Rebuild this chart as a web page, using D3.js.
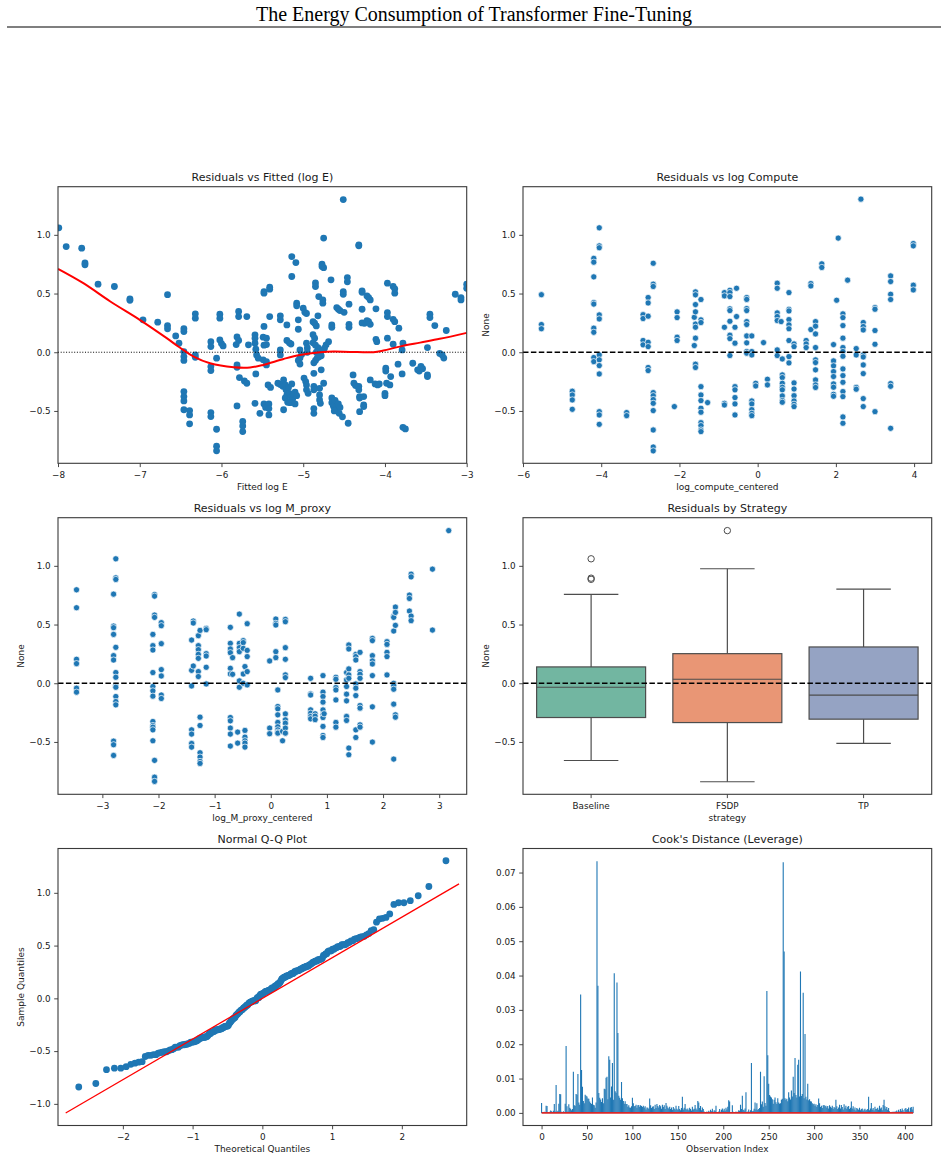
<!DOCTYPE html>
<meta charset="utf-8">
<head>
<style>
  body { margin: 0; background: #fff; }
  svg text { font-family: "DejaVu Sans", sans-serif; fill: #1a1a1a; }
  .axis text { font-size: 8.8px; }
  .axis line { stroke: #333; stroke-width: 0.9px; }
  .ptitle { font-size: 11px; }
  .alabel { font-size: 9px; }
</style>
</head>
<body>
<script src="https://d3js.org/d3.v7.min.js"></script>
<script>
// ---- data ----
// panel 1: fitted log E vs residual
var fittedResid = [
  [-7.99,1.06],[-7.90,0.90],[-7.71,0.886],[-7.67,0.76],[-7.67,0.745],[-7.51,0.58],[-7.31,0.56],[-7.12,0.455],[-7.12,0.443],
  [-6.96,0.276],[-6.78,0.256],[-6.66,0.49],[-6.66,0.227],[-6.66,0.20],[-6.56,0.139],[-6.52,0.077],
  [-6.46,0.20],[-6.46,0.176],[-6.46,0.006],[-6.46,-0.037],[-6.46,-0.07],[-6.46,-0.335],[-6.46,-0.378],[-6.46,-0.415],[-6.46,-0.49],
  [-6.39,-0.497],[-6.39,-0.534],[-6.39,-0.61],[-6.32,0.327],[-6.32,0.29],[-6.32,-0.023],[-6.32,-0.043],
  [-6.13,0.09],[-6.13,0.048],[-6.13,-0.122],[-6.13,-0.156],[-6.13,-0.514],[-6.13,-0.548],
  [-6.06,-0.051],[-6.06,-0.656],[-6.06,-0.80],[-6.06,-0.84],[-6.02,0.324],[-6.02,0.29],[-6.02,0.105],[-6.0,0.074],[-5.98,0.054],
  [-5.81,0.13],[-5.79,0.10],[-5.82,0.065],[-5.79,0.347],[-5.79,0.304],[-5.81,-0.108],[-5.81,-0.128],[-5.81,-0.457],
  [-5.69,0.304],[-5.78,-0.216],[-5.72,-0.245],[-5.69,-0.264],[-5.67,0.063],[-5.74,-0.59],[-5.74,-0.628],[-5.74,-0.676],
  [-5.59,0.148],[-5.59,0.12],[-5.59,0.077],[-5.58,0.026],[-5.57,-0.023],[-5.55,-0.051],[-5.58,-0.185],[-5.59,-0.435],[-5.53,-0.52],
  [-5.48,0.22],[-5.49,0.128],[-5.45,0.12],[-5.48,0.06],[-5.45,0.065],[-5.49,-0.065],[-5.45,-0.08],[-5.45,-0.108],[-5.48,-0.44],[-5.46,-0.47],
  [-5.48,0.503],[-5.48,0.517],[-5.42,-0.44],[-5.42,-0.48],[-5.42,-0.534],[-5.41,0.304],[-5.41,0.537],[-5.41,0.554],[-5.43,-0.278],[-5.40,-0.30],
  [-5.28,0.31],[-5.28,0.276],[-5.28,0.02],[-5.28,-0.023],[-5.31,-0.264],[-5.28,-0.275],[-5.25,-0.29],
  [-5.20,0.233],[-5.20,0.10],[-5.17,0.08],[-5.15,0.07],[-5.24,-0.49],
  [-5.24,-0.236],[-5.22,-0.278],[-5.21,-0.32],[-5.20,-0.364],[-5.22,-0.39],[-5.19,-0.426],[-5.17,-0.35],[-5.15,-0.38],[-5.13,-0.40],
  [-5.12,-0.36],[-5.10,-0.34],[-5.18,-0.30],[-5.16,-0.43],[-5.10,-0.44],[-5.14,-0.27],[-5.08,-0.37],
  [-5.14,0.815],[-5.09,0.764],[-5.14,0.645],[-5.08,0.418],[-5.08,0.395],[-5.06,0.276],[-5.06,0.196],[-5.04,0.02],[-5.02,-0.02],[-5.04,-0.05],[-5.06,-0.07],[-5.04,-0.10],
  [-5.0,0.375],[-4.98,0.34],[-4.96,0.33],[-4.99,-0.22],[-4.97,-0.25],[-4.96,-0.28],[-4.96,-0.32],[-4.94,-0.35],[-4.96,0.077],[-4.95,0.036],[-4.95,0.0],
  [-4.88,0.26],[-4.86,0.247],[-4.84,0.224],[-4.88,0.15],[-4.86,0.12],
  [-4.88,0.08],[-4.85,0.06],[-4.82,0.04],[-4.80,0.02],[-4.84,0.0],[-4.79,-0.01],[-4.78,-0.03],[-4.81,-0.04],[-4.83,-0.05],[-4.85,-0.07],[-4.87,-0.09],
  [-4.87,-0.18],[-4.87,-0.29],[-4.87,-0.32],[-4.87,-0.48],[-4.87,-0.52],[-4.85,0.59],[-4.85,0.56],[-4.81,0.474],[-4.82,0.31],[-4.78,-0.15],
  [-4.76,0.446],[-4.76,0.418],[-4.75,0.72],[-4.77,0.75],[-4.77,0.73],
  [-4.66,0.617],[-4.75,0.972],[-4.65,0.233],[-4.65,0.213],[-4.69,0.09],[-4.72,0.063],[-4.74,0.034],[-4.75,-0.264],[-4.8,-0.307],[-4.8,-0.364],[-4.8,-0.406],[-4.79,-0.435],
  [-4.59,0.38],[-4.57,0.366],[-4.55,0.355],
  [-4.65,-0.39],[-4.65,-0.43],[-4.63,-0.46],[-4.60,-0.49],[-4.56,-0.52],[-4.52,-0.55],[-4.61,-0.41],[-4.57,-0.44],[-4.55,-0.47],[-4.62,-0.50],
  [-4.51,1.30],[-4.51,0.517],[-4.51,0.494],[-4.50,0.34],[-4.46,0.636],[-4.46,0.60],[-4.44,0.409],[-4.44,0.238],[-4.44,0.213],[-4.45,-0.605],
  [-4.39,-0.193],[-4.38,-0.264],[-4.36,-0.284],
  [-4.32,0.915],[-4.32,0.906],[-4.32,-0.29],[-4.32,-0.32],[-4.31,-0.378],[-4.31,-0.39],[-4.31,-0.506],[-4.28,0.523],[-4.28,0.511],[-4.28,0.366],
  [-4.28,0.25],[-4.25,0.247],[-4.26,-0.378],[-4.26,-0.449],[-4.26,-0.463],
  [-4.22,0.27],[-4.20,0.26],[-4.18,0.238],[-4.22,0.48],[-4.20,0.466],[-4.18,0.446],[-4.18,-0.236],[-4.11,0.37],[-4.11,0.11],[-4.1,0.09],
  [-4.12,-0.27],[-4.09,-0.278],[-4.07,-0.27],
  [-3.97,0.588],[-3.97,0.338],[-3.97,0.304],[-3.97,0.12],[-3.99,-0.136],[-3.99,-0.16],[-4.0,-0.35],[-4.0,-0.37],[-3.98,-0.264],[-3.94,-0.278],
  [-3.9,0.56],[-3.88,0.54],[-3.88,0.503],[-3.9,0.28],[-3.88,0.26],[-3.9,0.068],[-3.93,-0.207],[-3.83,0.205],[-3.84,-0.102],[-3.78,0.077],
  [-3.79,0.02],[-3.79,-0.185],[-3.78,-0.64],[-3.75,-0.653],
  [-3.66,-0.094],[-3.6,-0.15],[-3.58,-0.16],[-3.56,-0.12],[-3.54,-0.14],[-3.48,-0.193],[-3.48,-0.207],[-3.48,0.04],[-3.45,0.324],[-3.45,0.295],
  [-3.39,0.227],[-3.33,-0.01],[-3.30,-0.023],[-3.28,-0.05],[-3.25,0.185],[-3.14,0.494],[-3.07,0.466],[-3.07,0.446],[-3.0,0.58],[-3.0,0.545]
];
var lowessCurve = [
  [-8.0,0.71],[-7.69,0.588],[-7.36,0.432],[-7.0,0.276],[-6.67,0.12],[-6.51,0.04],[-6.34,-0.037],[-6.14,-0.094],[-5.85,-0.128],
  [-5.65,-0.13],[-5.49,-0.108],[-5.24,-0.057],[-5.04,-0.023],[-4.79,0.0],[-4.63,0.006],[-4.43,0.003],[-4.14,0.0],[-4.02,0.014],
  [-3.82,0.048],[-3.57,0.082],[-3.33,0.114],[-3.0,0.165]
];

// panel 2: residuals stacked at each log_compute_centered level
var computeLevels = [-5.53,-4.74,-4.19,-4.05,-3.35,-2.93,-2.80,-2.67,-2.13,-2.06,-1.62,-1.59,-1.45,-1.28,-0.85,-0.71,-0.58,-0.54,
  -0.28,-0.15,-0.05,0.15,0.25,0.50,0.60,0.63,0.80,0.93,1.24,1.36,1.48,1.64,1.94,2.02,2.06,2.18,2.30,2.52,2.64,2.70,3.00,3.40,3.98];
var computeResiduals = [
  [0.49,0.236,0.20],
  [-0.332,-0.364,-0.406,-0.486],
  [0.80,0.767,0.642,0.423,0.41,0.205,0.17,-0.045,-0.08],
  [1.06,0.906,0.89,0.318,0.284,-0.023,-0.065,-0.114,-0.185,-0.506,-0.534,-0.614],
  [-0.514,-0.54],
  [0.32,0.287,0.10,0.063],
  [0.466,0.42,0.307,0.085,0.048,-0.13,-0.156],
  [0.758,0.58,0.56,-0.344,-0.37,-0.403,-0.435,-0.497,-0.662,-0.807,-0.84],
  [-0.463],
  [0.344,0.295,0.128,0.10],
  [0.298,0.057],
  [0.514,0.489,0.406,0.344,0.24,0.213,0.12,-0.102,-0.13],
  [0.449,0.276,0.253,-0.293,-0.364,-0.412,-0.477,-0.511,-0.60,-0.625,-0.662,-0.676],
  [-0.429],
  [0.508,0.48,0.213,-0.435,-0.449],
  [0.528,0.508,0.474,0.37,0.355,0.264,0.145,0.116,-0.028],
  [0.213,0.077,-0.293,-0.32,-0.386,-0.44,-0.534],
  [0.545,0.304],
  [0.466,0.45,0.372,0.355,0.261,0.236,0.139,0.08,0.006,-0.008],
  [0.139,0.006,-0.023,-0.415,-0.44,-0.489,-0.52,-0.54],
  [-0.264,-0.287],
  [0.082],
  [-0.23,-0.278],
  [0.588,0.545,0.335,0.304,0.27,0.02,-0.028],
  [0.261],
  [-0.057,-0.193,-0.216,-0.264,-0.298,-0.32,-0.372,-0.412,-0.426],
  [0.508,0.366,0.352,0.278,0.233,0.20,0.10,-0.037,-0.091],
  [0.071,0.048,-0.261,-0.313,-0.37,-0.415,-0.443,-0.463],
  [0.10,0.071,0.04],
  [0.585,0.565,0.193],
  [0.261,0.222,0.156,0.04,-0.065,-0.088,-0.15,-0.236,-0.278,-0.30],
  [0.753,0.722],
  [0.065,-0.074,-0.116,-0.165,-0.207,-0.27,-0.298,-0.358,-0.375],
  [0.443],
  [0.972],
  [0.327,0.295,0.227,0.12,0.04,0.006,-0.034,-0.142,-0.199,-0.256,-0.335,-0.378,-0.551,-0.605],
  [0.614],
  [0.031,-0.023,-0.30,-0.315],
  [1.304],
  [0.253,0.219,0.19,-0.023,-0.04,-0.108,-0.182,-0.395,-0.463],
  [0.38,0.366,0.185,0.068,-0.506],
  [0.65,0.602,0.494,0.449,-0.267,-0.29,-0.648],
  [0.926,0.906,0.571,0.531]
];

// panel 3: residuals stacked at each log_M_proxy_centered level
var mproxyLevels = [-3.46,-2.80,-2.76,-2.10,-2.07,-1.95,-1.41,-1.38,-1.29,-1.26,-1.15,-0.72,-0.68,-0.59,-0.56,-0.49,-0.46,-0.42,
  -0.02,0.09,0.125,0.21,0.26,0.71,0.79,0.93,0.95,1.16,1.35,1.39,1.515,1.59,1.81,2.07,2.19,2.22,2.47,2.50,2.88,3.17];
var mproxyResiduals = [
  [0.796,0.643,0.204,0.167,-0.042,-0.076],
  [0.759,0.487,0.473,0.416,0.235,0.198,-0.493,-0.524,-0.615],
  [1.06,0.898,0.884,0.306,0.091,0.051,-0.02,-0.034,-0.113,-0.156,-0.184],
  [0.416,0.32,0.283,0.091,-0.028,-0.065,-0.11,-0.326,-0.36,-0.374,-0.397,-0.49],
  [0.756,0.742,0.581,0.561,-0.657,-0.80,-0.836],
  [0.516,0.49,0.337,0.116,0.062,-0.10,-0.13],
  [0.368,0.11,-0.023,-0.397,-0.433,-0.513,-0.544],
  [0.53,0.513,0.147],
  [0.405,0.32,0.286,0.246,0.212,0.099,0.057],
  [0.45,-0.289,-0.36,-0.592,-0.629,-0.666,-0.683],
  [0.467,0.456,0.252,0.232,0.136,-0.006],
  [0.476,0.34,0.292,0.26,0.127,0.079,-0.292,-0.32,-0.382,-0.433,-0.535],
  [0.218,0.076],
  [-0.416,-0.51],
  [0.589,0.34,0.303,0.269,0.02,-0.034],
  [0.363,0.346,0.297,0.079,0.0],
  [0.142,-0.402,-0.459,-0.49,-0.51,-0.544],
  [0.507,0.28,0.227,0.099,-0.014],
  [0.19,-0.382,-0.43],
  [0.547,0.51,0.496,0.269,0.218],
  [-0.057,-0.198,-0.218,-0.269,-0.334,-0.371,-0.397,-0.416,-0.425],
  [-0.41,-0.49],
  [0.544,0.524,0.303,0.204,0.071,0.048,-0.261,-0.312,-0.34,-0.382,-0.425],
  [0.042,-0.091,-0.10,-0.227,-0.255,-0.283,-0.303],
  [-0.26,-0.28,-0.31],
  [0.065,-0.076,-0.113,-0.161,-0.227,-0.269,-0.292,-0.368,-0.445,-0.462],
  [-0.26],
  [0.051,0.034,-0.037,-0.057,-0.142,-0.334,-0.374],
  [0.091,0.028,-0.028,-0.093,-0.15,-0.283,-0.317],
  [0.326,0.292,0.122,0.071,0.042,-0.552,-0.609],
  [0.246,0.227,0.198,-0.006,-0.042,-0.105,-0.397,-0.462],
  [0.263,0.099,0.076,0.042,-0.19,-0.212,-0.354,-0.374],
  [0.382,0.363,0.235,0.19,0.164,0.065,-0.201,-0.501],
  [0.354,0.331,0.263,0.227,0.071],
  [0.572,0.561,0.445,0.0,-0.02,-0.051,-0.178,-0.646],
  [0.649,0.603,0.493,-0.269,-0.289],
  [0.751,0.722,0.615],
  [0.929,0.906,0.572,0.533],
  [0.972,0.453],
  [1.30]
];

// panel 4: box statistics per strategy
var strategies = ["Baseline", "FSDP", "TP"];
var boxColors = ["#72b6a1", "#e99675", "#95a3c3"];
var whiskerLow = [-0.658, -0.839, -0.513];
var boxQ1 = [-0.292, -0.335, -0.306];
var boxMedian = [-0.034, 0.034, -0.102];
var boxQ3 = [0.139, 0.252, 0.309];
var whiskerHigh = [0.757, 0.975, 0.802];
var outliers = [[1.06, 0.895, 0.885], [1.30], []];

// panel 5: reference line of the Q-Q plot (theoretical, sample)
var qqLine = [[-2.82, -1.087], [2.82, 1.085]];

// panel 6: Cook's distance per observation (index 0..409)
var cooksD = [
  0.0029,0.0002,0.0000,0.0003,0.0001,0.0021,0.0020,0.0002,0.0001,0.0003,
  0.0007,0.0005,0.0001,0.0006,0.0026,0.0004,0.0081,0.0004,0.0006,0.0027,
  0.0055,0.0054,0.0003,0.0002,0.0005,0.0002,0.0027,0.0195,0.0019,0.0004,
  0.0025,0.0015,0.0012,0.0008,0.0011,0.0120,0.0022,0.0021,0.0055,0.0053,
  0.0113,0.0030,0.0024,0.0345,0.0125,0.0076,0.0035,0.0028,0.0053,0.0050,
  0.0048,0.0042,0.0041,0.0033,0.0029,0.0026,0.0045,0.0024,0.0022,0.0015,
  0.0030,0.0733,0.0370,0.0058,0.0044,0.0039,0.0032,0.0043,0.0028,0.0070,
  0.0069,0.0102,0.0105,0.0040,0.0165,0.0155,0.0045,0.0077,0.0145,0.0038,
  0.0407,0.0063,0.0059,0.0380,0.0233,0.0050,0.0044,0.0038,0.0090,0.0043,
  0.0035,0.0027,0.0034,0.0026,0.0026,0.0018,0.0022,0.0016,0.0015,0.0019,
  0.0044,0.0028,0.0019,0.0020,0.0024,0.0015,0.0022,0.0023,0.0018,0.0022,
  0.0020,0.0017,0.0021,0.0016,0.0019,0.0010,0.0016,0.0015,0.0012,0.0042,
  0.0022,0.0014,0.0018,0.0019,0.0011,0.0024,0.0014,0.0026,0.0020,0.0016,
  0.0023,0.0019,0.0012,0.0024,0.0017,0.0022,0.0011,0.0029,0.0021,0.0016,
  0.0013,0.0018,0.0011,0.0016,0.0009,0.0017,0.0013,0.0010,0.0021,0.0012,
  0.0009,0.0020,0.0011,0.0008,0.0014,0.0047,0.0010,0.0015,0.0026,0.0012,
  0.0009,0.0013,0.0008,0.0015,0.0011,0.0007,0.0018,0.0010,0.0012,0.0023,
  0.0013,0.0009,0.0035,0.0030,0.0014,0.0020,0.0008,0.0016,0.0011,0.0004,
  0.0002,0.0001,0.0004,0.0000,0.0006,0.0003,0.0009,0.0005,0.0012,0.0003,
  0.0008,0.0006,0.0021,0.0002,0.0001,0.0004,0.0011,0.0003,0.0009,0.0013,
  0.0007,0.0012,0.0006,0.0015,0.0010,0.0018,0.0037,0.0033,0.0002,0.0001,
  0.0022,0.0003,0.0001,0.0002,0.0004,0.0001,0.0003,0.0008,0.0006,0.0024,
  0.0011,0.0050,0.0009,0.0007,0.0013,0.0060,0.0002,0.0004,0.0010,0.0003,
  0.0008,0.0145,0.0005,0.0006,0.0012,0.0030,0.0010,0.0028,0.0009,0.0011,
  0.0014,0.0120,0.0025,0.0033,0.0018,0.0107,0.0029,0.0021,0.0355,0.0168,
  0.0085,0.0052,0.0048,0.0045,0.0040,0.0027,0.0038,0.0045,0.0031,0.0026,
  0.0043,0.0030,0.0027,0.0028,0.0038,0.0041,0.0730,0.0470,0.0043,0.0038,
  0.0041,0.0034,0.0060,0.0045,0.0039,0.0065,0.0048,0.0105,0.0058,0.0160,
  0.0052,0.0045,0.0140,0.0155,0.0048,0.0412,0.0049,0.0055,0.0350,0.0043,
  0.0230,0.0047,0.0039,0.0085,0.0037,0.0040,0.0034,0.0033,0.0028,0.0025,
  0.0027,0.0021,0.0025,0.0018,0.0023,0.0042,0.0028,0.0017,0.0021,0.0014,
  0.0022,0.0023,0.0019,0.0021,0.0016,0.0020,0.0013,0.0022,0.0018,0.0015,
  0.0021,0.0012,0.0017,0.0014,0.0038,0.0019,0.0011,0.0016,0.0024,0.0013,
  0.0023,0.0017,0.0010,0.0025,0.0015,0.0021,0.0012,0.0018,0.0020,0.0011,
  0.0015,0.0033,0.0013,0.0019,0.0010,0.0016,0.0007,0.0014,0.0012,0.0009,
  0.0015,0.0008,0.0011,0.0013,0.0006,0.0010,0.0012,0.0007,0.0009,0.0011,
  0.0047,0.0008,0.0013,0.0029,0.0010,0.0014,0.0007,0.0018,0.0011,0.0012,
  0.0015,0.0009,0.0021,0.0013,0.0016,0.0008,0.0023,0.0038,0.0019,0.0012,
  0.0017,0.0009,0.0014,0.0005,0.0002,0.0001,0.0003,0.0001,0.0004,0.0002,
  0.0005,0.0007,0.0003,0.0009,0.0004,0.0011,0.0006,0.0013,0.0008,0.0002,
  0.0012,0.0014,0.0009,0.0011,0.0016,0.0004,0.0015,0.0017,0.0010,0.0018
];

// ---- layout ----
var width = 948, height = 1160;
var blue = "#1f77b4";
var colL = [58, 466.7], colR = [523, 931.7];
var row1 = [186.7, 463.3], row2 = [517.7, 794.3], row3 = [848.5, 1125.5];
var residDomain = [-0.946, 1.41];

var svg = d3.select("body").append("svg")
    .attr("width", width)
    .attr("height", height);

// figure title with rule underneath
svg.append("text")
    .attr("x", width / 2)
    .attr("y", 21)
    .attr("text-anchor", "middle")
    .style("font-family", "'Liberation Serif', 'Times New Roman', serif")
    .style("font-size", "20px")
    .style("fill", "#000")
    .text("The Energy Consumption of Transformer Fine-Tuning");
svg.append("line")
    .attr("x1", 7).attr("x2", 941)
    .attr("y1", 27).attr("y2", 27)
    .attr("stroke", "#000")
    .attr("stroke-width", 1.2);

var clipCount = 0;
function addPanel(cols, rows) {
    var id = "clip" + (clipCount++);
    svg.append("clipPath").attr("id", id)
        .append("rect")
        .attr("x", cols[0]).attr("y", rows[0])
        .attr("width", cols[1] - cols[0]).attr("height", rows[1] - rows[0]);
    var g = svg.append("g");
    var plot = g.append("g").attr("clip-path", "url(#" + id + ")");
    return { g: g, plot: plot };
}

function decorate(p, cols, rows, x, y, opt) {
    var xAxis = d3.axisBottom(x).tickSize(3.8).tickPadding(4.2).tickSizeOuter(0);
    if (opt.xTicks) xAxis.tickValues(opt.xTicks);
    if (opt.xFmt) xAxis.tickFormat(opt.xFmt);
    p.g.append("g").attr("class", "axis")
        .attr("transform", "translate(0," + rows[1] + ")")
        .call(xAxis)
        .call(function(s) { s.select(".domain").remove(); });

    var yAxis = d3.axisLeft(y).tickSize(3.8).tickPadding(3.5).tickSizeOuter(0)
        .tickValues(opt.yTicks).tickFormat(opt.yFmt);
    p.g.append("g").attr("class", "axis")
        .attr("transform", "translate(" + cols[0] + ",0)")
        .call(yAxis)
        .call(function(s) { s.select(".domain").remove(); });

    p.g.selectAll(".axis text").style("font-family", "'DejaVu Sans', sans-serif");

    p.g.append("rect")
        .attr("x", cols[0]).attr("y", rows[0])
        .attr("width", cols[1] - cols[0]).attr("height", rows[1] - rows[0])
        .attr("fill", "none")
        .attr("stroke", "#3a3a3a")
        .attr("stroke-width", 1.1);

    p.g.append("text").attr("class", "ptitle")
        .attr("x", (cols[0] + cols[1]) / 2)
        .attr("y", rows[0] - 5.5)
        .attr("text-anchor", "middle")
        .text(opt.title);

    if (opt.xLabel) {
        p.g.append("text").attr("class", "alabel")
            .attr("x", (cols[0] + cols[1]) / 2)
            .attr("y", rows[1] + 26.7)
            .attr("text-anchor", "middle")
            .text(opt.xLabel);
    }
    if (opt.yLabel) {
        var cy = (rows[0] + rows[1]) / 2;
        p.g.append("text").attr("class", "alabel")
            .attr("transform", "translate(" + (cols[0] - 34) + "," + cy + ") rotate(-90)")
            .attr("text-anchor", "middle")
            .text(opt.yLabel);
    }
}

function zeroLine(p, x0, x1, y, dash, w) {
    p.plot.append("line")
        .attr("x1", x0).attr("x2", x1)
        .attr("y1", y(0)).attr("y2", y(0))
        .attr("stroke", "#000")
        .attr("stroke-width", w)
        .attr("stroke-dasharray", dash);
}

var f1 = d3.format(".1f");
var residTicks = [-0.5, 0, 0.5, 1.0];

// ---- panel 1: residuals vs fitted ----
(function() {
    var x = d3.scaleLinear().domain([-8, -3]).range(colL);
    var y = d3.scaleLinear().domain(residDomain).range([row1[1], row1[0]]);
    var p = addPanel(colL, row1);
    p.plot.selectAll("circle")
        .data(fittedResid)
        .enter().append("circle")
        .attr("cx", function(d) { return x(d[0]); })
        .attr("cy", function(d) { return y(d[1]); })
        .attr("r", 3.4)
        .style("fill", blue);
    zeroLine(p, colL[0], colL[1], y, "1,1.7", 1);
    var line = d3.line()
        .x(function(d) { return x(d[0]); })
        .y(function(d) { return y(d[1]); })
        .curve(d3.curveCatmullRom);
    p.plot.append("path")
        .datum(lowessCurve)
        .attr("d", line)
        .attr("fill", "none")
        .attr("stroke", "#ff0000")
        .attr("stroke-width", 2);
    decorate(p, colL, row1, x, y, {
        xTicks: [-8, -7, -6, -5, -4, -3], xFmt: d3.format("d"),
        yTicks: residTicks, yFmt: f1,
        title: "Residuals vs Fitted (log E)", xLabel: "Fitted log E"
    });
})();

// scatter of stacked columns, seaborn style (white edge)
function stackedScatter(p, levels, resids, x, y) {
    var pts = [];
    levels.forEach(function(lv, i) {
        resids[i].forEach(function(r) { pts.push([lv, r]); });
    });
    p.plot.selectAll("circle")
        .data(pts)
        .enter().append("circle")
        .attr("cx", function(d) { return x(d[0]); })
        .attr("cy", function(d) { return y(d[1]); })
        .attr("r", 3.1)
        .style("fill", blue)
        .style("stroke", "#fff")
        .style("stroke-width", 0.7);
}

// ---- panel 2: residuals vs log compute ----
(function() {
    var x = d3.scaleLinear().domain([-6.0, 4.45]).range(colR);
    var y = d3.scaleLinear().domain(residDomain).range([row1[1], row1[0]]);
    var p = addPanel(colR, row1);
    stackedScatter(p, computeLevels, computeResiduals, x, y);
    zeroLine(p, colR[0], colR[1], y, "5.5,2.4", 1.5);
    decorate(p, colR, row1, x, y, {
        xTicks: [-6, -4, -2, 0, 2, 4], xFmt: d3.format("d"),
        yTicks: residTicks, yFmt: f1,
        title: "Residuals vs log Compute", xLabel: "log_compute_centered", yLabel: "None"
    });
})();

// ---- panel 3: residuals vs log M_proxy ----
(function() {
    var x = d3.scaleLinear().domain([-3.79, 3.49]).range(colL);
    var y = d3.scaleLinear().domain(residDomain).range([row2[1], row2[0]]);
    var p = addPanel(colL, row2);
    stackedScatter(p, mproxyLevels, mproxyResiduals, x, y);
    zeroLine(p, colL[0], colL[1], y, "5.5,2.4", 1.5);
    decorate(p, colL, row2, x, y, {
        xTicks: [-3, -2, -1, 0, 1, 2, 3], xFmt: d3.format("d"),
        yTicks: residTicks, yFmt: f1,
        title: "Residuals vs log M_proxy", xLabel: "log_M_proxy_centered", yLabel: "None"
    });
})();

// ---- panel 4: box plot by strategy ----
(function() {
    var x = d3.scaleBand().domain(strategies).range(colR).paddingInner(0.2).paddingOuter(0.1);
    var y = d3.scaleLinear().domain(residDomain).range([row2[1], row2[0]]);
    var p = addPanel(colR, row2);
    var edge = "#4d4d4d";
    var bw = x.bandwidth();
    strategies.forEach(function(s, i) {
        var cx = x(s) + bw / 2;
        var gb = p.plot.append("g");
        gb.append("line").attr("x1", cx).attr("x2", cx)
            .attr("y1", y(whiskerHigh[i])).attr("y2", y(boxQ3[i]))
            .attr("stroke", edge).attr("stroke-width", 1.2);
        gb.append("line").attr("x1", cx).attr("x2", cx)
            .attr("y1", y(boxQ1[i])).attr("y2", y(whiskerLow[i]))
            .attr("stroke", edge).attr("stroke-width", 1.2);
        [whiskerHigh[i], whiskerLow[i]].forEach(function(v) {
            gb.append("line").attr("x1", cx - bw / 4).attr("x2", cx + bw / 4)
                .attr("y1", y(v)).attr("y2", y(v))
                .attr("stroke", edge).attr("stroke-width", 1.2);
        });
        gb.append("rect")
            .attr("x", x(s)).attr("width", bw)
            .attr("y", y(boxQ3[i])).attr("height", y(boxQ1[i]) - y(boxQ3[i]))
            .attr("fill", boxColors[i])
            .attr("stroke", edge).attr("stroke-width", 1.2);
        gb.append("line").attr("x1", x(s)).attr("x2", x(s) + bw)
            .attr("y1", y(boxMedian[i])).attr("y2", y(boxMedian[i]))
            .attr("stroke", edge).attr("stroke-width", 1.2);
        gb.selectAll("circle.out").data(outliers[i]).enter().append("circle")
            .attr("cx", cx).attr("cy", function(d) { return y(d); })
            .attr("r", 3.2)
            .attr("fill", "none")
            .attr("stroke", edge).attr("stroke-width", 1);
    });
    zeroLine(p, colR[0], colR[1], y, "5.5,2.4", 1.5);
    decorate(p, colR, row2, x, y, {
        yTicks: residTicks, yFmt: f1,
        title: "Residuals by Strategy", xLabel: "strategy", yLabel: "None"
    });
})();

// inverse standard normal CDF (Acklam) for theoretical quantiles
function normInv(pr) {
    var a = [-3.969683028665376e+01, 2.209460984245205e+02, -2.759285104469687e+02, 1.383577518672690e+02, -3.066479806614716e+01, 2.506628277459239e+00];
    var b = [-5.447609879822406e+01, 1.615858368580409e+02, -1.556989798598866e+02, 6.680131188771972e+01, -1.328068155288572e+01];
    var c = [-7.784894002430293e-03, -3.223964580411365e-01, -2.400758277161838e+00, -2.549732539343734e+00, 4.374664141464968e+00, 2.938163982698783e+00];
    var d = [7.784695709041462e-03, 3.224671290700398e-01, 2.445134137142996e+00, 3.754408661907416e+00];
    var lo = 0.02425, q, r;
    if (pr < lo) {
        q = Math.sqrt(-2 * Math.log(pr));
        return (((((c[0]*q+c[1])*q+c[2])*q+c[3])*q+c[4])*q+c[5]) / ((((d[0]*q+d[1])*q+d[2])*q+d[3])*q+1);
    }
    if (pr > 1 - lo) {
        q = Math.sqrt(-2 * Math.log(1 - pr));
        return -(((((c[0]*q+c[1])*q+c[2])*q+c[3])*q+c[4])*q+c[5]) / ((((d[0]*q+d[1])*q+d[2])*q+d[3])*q+1);
    }
    q = pr - 0.5; r = q * q;
    return (((((a[0]*r+a[1])*r+a[2])*r+a[3])*r+a[4])*r+a[5])*q / (((((b[0]*r+b[1])*r+b[2])*r+b[3])*r+b[4])*r+1);
}

// ---- panel 5: normal Q-Q of the residuals ----
(function() {
    var sample = d3.merge(computeResiduals).sort(d3.ascending);
    var n = sample.length;
    var qq = sample.map(function(v, i) { return [normInv((i + 1) / (n + 1)), v]; });
    var x = d3.scaleLinear().domain([-2.93, 2.93]).range(colL);
    var y = d3.scaleLinear().domain([-1.205, 1.42]).range([row3[1], row3[0]]);
    var p = addPanel(colL, row3);
    p.plot.selectAll("circle")
        .data(qq)
        .enter().append("circle")
        .attr("cx", function(d) { return x(d[0]); })
        .attr("cy", function(d) { return y(d[1]); })
        .attr("r", 3.4)
        .style("fill", blue);
    p.plot.append("line")
        .attr("x1", x(qqLine[0][0])).attr("y1", y(qqLine[0][1]))
        .attr("x2", x(qqLine[1][0])).attr("y2", y(qqLine[1][1]))
        .attr("stroke", "#ff0000")
        .attr("stroke-width", 1.3);
    decorate(p, colL, row3, x, y, {
        xTicks: [-2, -1, 0, 1, 2], xFmt: d3.format("d"),
        yTicks: [-1.0, -0.5, 0, 0.5, 1.0], yFmt: f1,
        title: "Normal Q-Q Plot", xLabel: "Theoretical Quantiles", yLabel: "Sample Quantiles"
    });
})();

// ---- panel 6: Cook's distance stems ----
(function() {
    var x = d3.scaleLinear().domain([-20.45, 429.45]).range(colR);
    var y = d3.scaleLinear().domain([-0.00367, 0.0770]).range([row3[1], row3[0]]);
    var p = addPanel(colR, row3);
    p.plot.selectAll("line.stem")
        .data(cooksD)
        .enter().append("line")
        .attr("class", "stem")
        .attr("x1", function(d, i) { return x(i); })
        .attr("x2", function(d, i) { return x(i); })
        .attr("y1", y(0))
        .attr("y2", function(d) { return y(d); })
        .attr("stroke", blue)
        .attr("stroke-width", 1.1);
    p.plot.append("line")
        .attr("x1", x(0)).attr("x2", x(cooksD.length - 1))
        .attr("y1", y(0)).attr("y2", y(0))
        .attr("stroke", "#d62728")
        .attr("stroke-width", 1.6);
    decorate(p, colR, row3, x, y, {
        xTicks: d3.range(0, 401, 50), xFmt: d3.format("d"),
        yTicks: d3.range(0, 8).map(function(k) { return k / 100; }), yFmt: d3.format(".2f"),
        title: "Cook's Distance (Leverage)", xLabel: "Observation Index"
    });
})();
</script>
</body>
